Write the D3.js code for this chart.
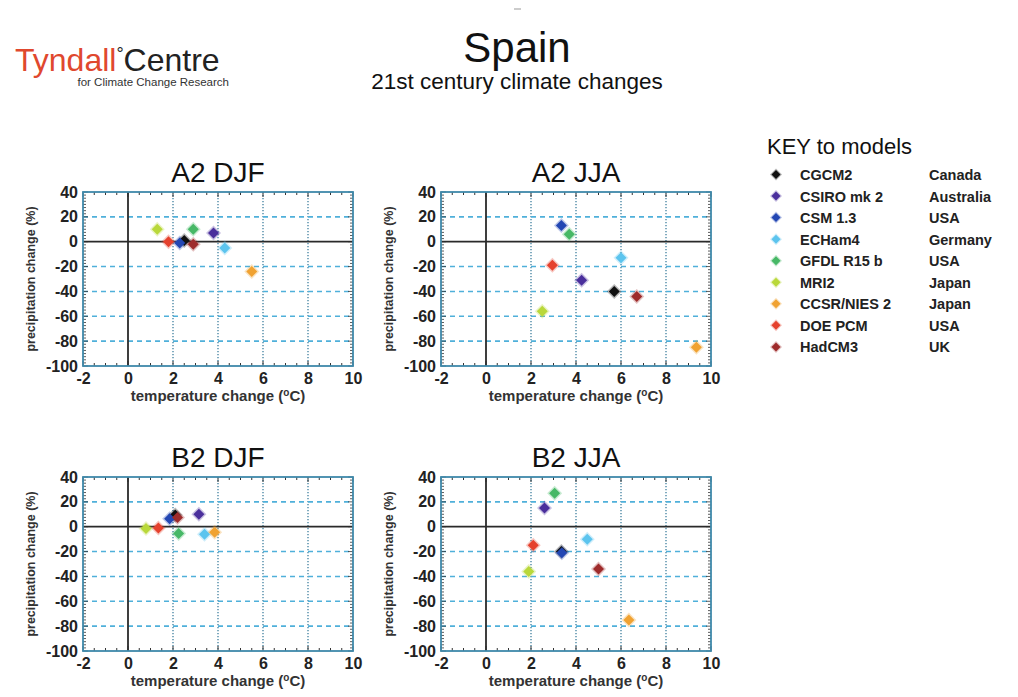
<!DOCTYPE html>
<html>
<head>
<meta charset="utf-8">
<script src="https://cdn.jsdelivr.net/npm/d3@7/dist/d3.min.js"></script>
<style>
  html, body { margin: 0; padding: 0; background: #ffffff; }
  svg { display: block; font-family: "Liberation Sans", Arial, sans-serif; }
</style>
</head>
<body>
<svg id="chart" width="1018" height="697"></svg>
<script>
// ---------- DATA ----------
const models = ["CGCM2", "CSIRO mk 2", "CSM 1.3", "ECHam4", "GFDL R15 b", "MRI2", "CCSR/NIES 2", "DOE PCM", "HadCM3"];
const countries = ["Canada", "Australia", "USA", "Germany", "USA", "Japan", "Japan", "USA", "UK"];
const modelColors = ["#111111", "#4a2f9c", "#2347b3", "#5cc4ee", "#47b866", "#b9d83a", "#f0a232", "#e5412d", "#9e2b2b"];

const panelTitles = ["A2 DJF", "A2 JJA", "B2 DJF", "B2 JJA"];

// temperature change (°C), precipitation change (%) per model, in model order
const a2djfTemp   = [2.5, 3.8, 2.3, 4.3, 2.9, 1.3, 5.5, 1.8, 2.9];
const a2djfPrecip = [1, 7, -1, -5, 10, 10, -24, 0, -2];
const a2jjaTemp   = [5.7, 4.25, 3.35, 6.0, 3.7, 2.5, 9.35, 2.95, 6.7];
const a2jjaPrecip = [-40, -31, 13, -13, 6, -56, -85, -19, -44];
const b2djfTemp   = [2.1, 3.15, 1.85, 3.4, 2.25, 0.8, 3.85, 1.35, 2.2];
const b2djfPrecip = [9.5, 10, 6.5, -6, -5.5, -1.5, -4.5, -1, 7.5];
const b2jjaTemp   = [3.35, 2.6, 3.37, 4.5, 3.05, 1.9, 6.35, 2.1, 5.0];
const b2jjaPrecip = [-20, 15, -21, -10, 27, -36, -75, -15, -34];

const xTickValues = [-2, 0, 2, 4, 6, 8, 10];
const yTickValues = [40, 20, 0, -20, -40, -60, -80, -100];
const xDomain = [-2, 10];
const yDomain = [-100, 40];

const panelTemps = [a2djfTemp, a2jjaTemp, b2djfTemp, b2jjaTemp];
const panelPrecips = [a2djfPrecip, a2jjaPrecip, b2djfPrecip, b2jjaPrecip];

// ---------- LAYOUT ----------
const svg = d3.select("#chart");
const panelLefts = [83, 441, 83, 441];
const panelTops = [192, 192, 477, 477];
const pw = 270, ph = 174;
const frameColor = "#3f89aa";
const gridColor = "#4fb0da";

// header
svg.append("line").attr("x1", 514).attr("x2", 521).attr("y1", 9).attr("y2", 9)
  .attr("stroke", "#aaa").attr("stroke-width", 1.2);

const logo = svg.append("text").attr("x", 15).attr("y", 71)
  .attr("font-size", 32).attr("fill", "#222");
logo.append("tspan").attr("fill", "#e0482e").text("Tyndall");
logo.append("tspan").attr("font-size", 18).attr("dy", -11).text("°");
logo.append("tspan").attr("dy", 11).text("Centre");
svg.append("text").attr("x", 229).attr("y", 86).attr("text-anchor", "end")
  .attr("font-size", 11.5).attr("fill", "#333").text("for Climate Change Research");

svg.append("text").attr("x", 517).attr("y", 62).attr("text-anchor", "middle")
  .attr("font-size", 42).attr("fill", "#111").text("Spain");
svg.append("text").attr("x", 517).attr("y", 89).attr("text-anchor", "middle")
  .attr("font-size", 22.5).attr("fill", "#111").text("21st century climate changes");

function diamondPath(w, h) {
  return `M0,${-h}L${w},0L0,${h}L${-w},0Z`;
}

// ---------- PANELS ----------
panelTitles.forEach((title, i) => {
  const left = panelLefts[i], top = panelTops[i];
  const g = svg.append("g").attr("transform", `translate(${left},${top})`);
  const x = d3.scaleLinear().domain(xDomain).range([0, pw]);
  const y = d3.scaleLinear().domain(yDomain).range([ph, 0]);

  // vertical dotted grid
  g.selectAll(".vg").data([2, 4, 6, 8]).join("line")
    .attr("x1", d => x(d)).attr("x2", d => x(d)).attr("y1", 0).attr("y2", ph)
    .attr("stroke", "#3d7f9e").attr("stroke-width", 1.3).attr("stroke-dasharray", "1.2,1.8");
  // horizontal dashed grid
  g.selectAll(".hg").data([20, -20, -40, -60, -80]).join("line")
    .attr("x1", 0).attr("x2", pw).attr("y1", d => y(d)).attr("y2", d => y(d))
    .attr("stroke", gridColor).attr("stroke-width", 1.6).attr("stroke-dasharray", "5,4");

  // minor ticks
  const xMinor = d3.range(-2, 10.01, 0.5);
  const yMinor = d3.range(-100, 40.01, 2.5);
  g.selectAll(".xmt").data(xMinor).join("line")
    .attr("x1", d => x(d)).attr("x2", d => x(d)).attr("y1", ph).attr("y2", d => ph - (d % 2 === 0 ? 5 : 3))
    .attr("stroke", "#333").attr("stroke-width", 1);
  g.selectAll(".xmtt").data(xMinor).join("line")
    .attr("x1", d => x(d)).attr("x2", d => x(d)).attr("y1", 0).attr("y2", d => (d % 2 === 0 ? 5 : 3))
    .attr("stroke", "#333").attr("stroke-width", 1);
  g.selectAll(".ymt").data(yMinor).join("line")
    .attr("x1", 0).attr("x2", d => (d % 20 === 0 ? 5 : 3)).attr("y1", d => y(d)).attr("y2", d => y(d))
    .attr("stroke", "#333").attr("stroke-width", 0.8);
  g.selectAll(".ymtr").data(yMinor).join("line")
    .attr("x1", pw).attr("x2", d => pw - (d % 20 === 0 ? 5 : 3)).attr("y1", d => y(d)).attr("y2", d => y(d))
    .attr("stroke", "#333").attr("stroke-width", 0.8);

  // zero lines
  g.append("line").attr("x1", x(0)).attr("x2", x(0)).attr("y1", 0).attr("y2", ph)
    .attr("stroke", "#2a2a2a").attr("stroke-width", 1.8);
  g.append("line").attr("x1", 0).attr("x2", pw).attr("y1", y(0)).attr("y2", y(0))
    .attr("stroke", "#2a2a2a").attr("stroke-width", 1.8);

  // frame
  g.append("rect").attr("x", 0).attr("y", 0).attr("width", pw).attr("height", ph)
    .attr("fill", "none").attr("stroke", frameColor).attr("stroke-width", 1.8);

  // axes (labels only)
  const xAxis = d3.axisBottom(x).tickValues(xTickValues).tickFormat(d => String(d)).tickSize(0).tickPadding(7);
  const xa = g.append("g").attr("transform", `translate(0,${ph})`).call(xAxis);
  xa.select(".domain").remove();
  xa.selectAll("text").attr("font-size", 16).attr("font-weight", "bold").attr("fill", "#222")
    .attr("font-family", "Liberation Sans, Arial, sans-serif");
  const yAxis = d3.axisLeft(y).tickValues(yTickValues).tickFormat(d => String(d)).tickSize(0).tickPadding(5);
  const ya = g.append("g").call(yAxis);
  ya.select(".domain").remove();
  ya.selectAll("text").attr("font-size", 16).attr("font-weight", "bold").attr("fill", "#222")
    .attr("font-family", "Liberation Sans, Arial, sans-serif");

  // title
  g.append("text").attr("x", pw / 2).attr("y", -10).attr("text-anchor", "middle")
    .attr("font-size", 28).attr("fill", "#111").text(title);

  // axis titles
  const xt = g.append("text").attr("x", pw / 2).attr("y", ph + 35).attr("text-anchor", "middle")
    .attr("font-size", 15).attr("font-weight", "bold").attr("fill", "#333");
  xt.append("tspan").text("temperature change (");
  xt.append("tspan").attr("font-size", 10).attr("dy", -5).text("o");
  xt.append("tspan").attr("dy", 5).text("C)");
  g.append("text").attr("transform", `translate(-48,${ph / 2}) rotate(-90)`)
    .attr("text-anchor", "middle").attr("font-size", 12.5).attr("font-weight", "bold")
    .attr("fill", "#333").text("precipitation change (%)");

  // points
  const temps = panelTemps[i], precs = panelPrecips[i];
  const pts = models.map((m, k) => ({ t: temps[k], p: precs[k], c: modelColors[k] }));
  const pg = g.append("g");
  pg.selectAll(".halo").data(pts).join("path")
    .attr("d", diamondPath(7.5, 7.5))
    .attr("transform", d => `translate(${x(d.t)},${y(d.p)})`)
    .attr("fill", d => d.c).attr("opacity", 0.3);
  pg.selectAll(".pt").data(pts).join("path")
    .attr("d", diamondPath(5.5, 5.5))
    .attr("transform", d => `translate(${x(d.t)},${y(d.p)})`)
    .attr("fill", d => d.c);
});

// ---------- LEGEND ----------
svg.append("text").attr("x", 767).attr("y", 154).attr("font-size", 22).attr("fill", "#111")
  .text("KEY to models");
const lg = svg.append("g");
const rowY = d3.scaleLinear().domain([0, 1]).range([174.5, 196.05]);
models.forEach((m, k) => {
  const yy = rowY(k);
  lg.append("path").attr("d", diamondPath(6, 6)).attr("transform", `translate(776,${yy})`)
    .attr("fill", modelColors[k]).attr("opacity", 0.3);
  lg.append("path").attr("d", diamondPath(4.5, 4.5)).attr("transform", `translate(776,${yy})`)
    .attr("fill", modelColors[k]);
  lg.append("text").attr("x", 800).attr("y", yy + 5.5).attr("font-size", 14.5).attr("fill", "#222")
    .attr("font-weight", "bold").text(m);
  lg.append("text").attr("x", 929).attr("y", yy + 5.5).attr("font-size", 14.5).attr("fill", "#222")
    .attr("font-weight", "bold").text(countries[k]);
});
</script>
</body>
</html>
